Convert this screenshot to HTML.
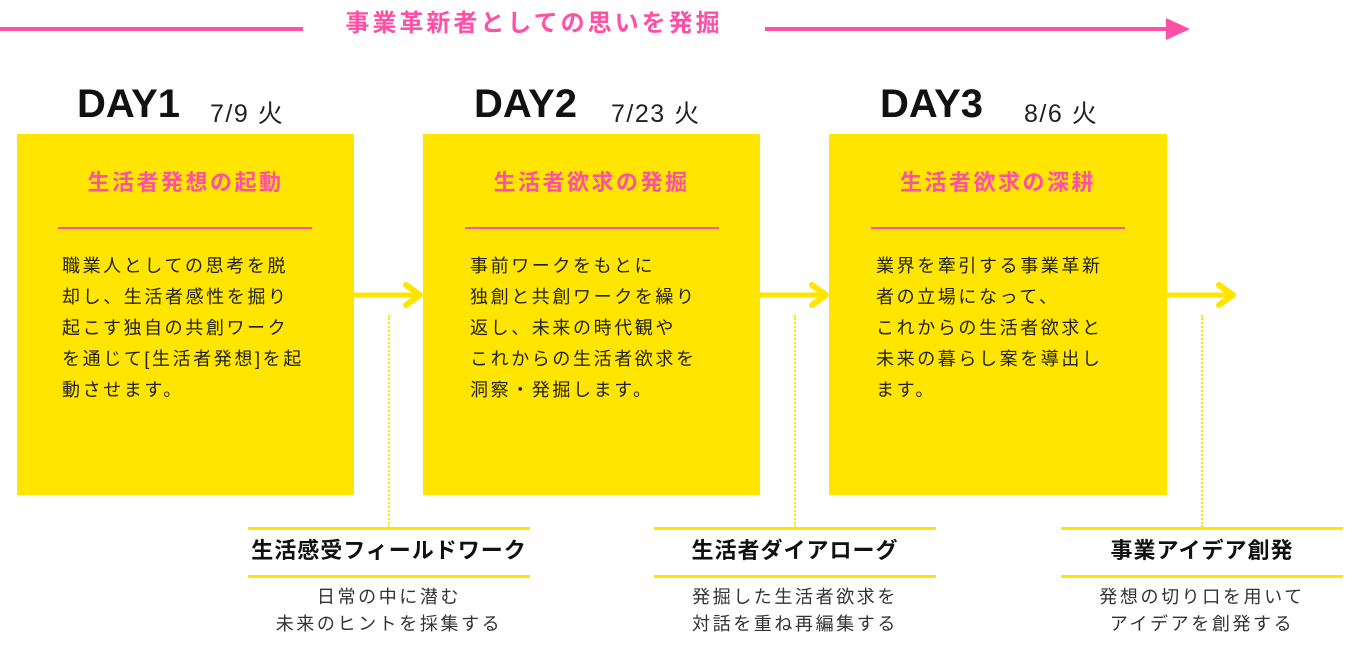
<!DOCTYPE html>
<html><head><meta charset="utf-8"><style>
body{margin:0;width:1366px;height:650px;background:#fff;position:relative;overflow:hidden;font-family:"Liberation Sans","Noto Sans CJK JP",sans-serif;}
.a{position:absolute;}
.box{position:absolute;top:134px;height:361px;background:#FFE500;}
.ttl{position:absolute;left:0;width:100%;top:34px;text-align:center;color:#FF4FA6;font-weight:bold;font-size:22px;letter-spacing:2.5px;line-height:30px;}
.pl{position:absolute;top:227px;height:2px;background:#FF4FA6;}
.body{position:absolute;top:251px;font-size:18px;letter-spacing:2.6px;line-height:31px;color:#222;white-space:nowrap;}
.day{position:absolute;top:82px;font-weight:bold;font-size:40px;color:#111;}
.date{position:absolute;top:94px;font-size:25px;letter-spacing:1.5px;color:#222;}
.yl{position:absolute;height:3px;background:#FFE500;}
.st{position:absolute;top:536px;text-align:center;font-weight:bold;font-size:22px;letter-spacing:1px;color:#111;line-height:30px;}
.sd{position:absolute;top:584px;text-align:center;font-size:18px;letter-spacing:2.6px;color:#333;line-height:27px;white-space:nowrap;}
.dot{position:absolute;top:315px;height:212px;border-left:2px dotted #FFE500;}
</style></head><body>
<div class="a" style="left:0;top:27px;width:303px;height:4px;background:#FF4FA6"></div>
<div class="a" style="left:765px;top:27px;width:405px;height:4px;background:#FF4FA6"></div>
<svg class="a" style="left:1166px;top:18px" width="26" height="22"><polygon points="0,0 24,11 0,22" fill="#FF4FA6"/></svg>
<div class="a" style="left:303px;width:462px;top:8px;text-align:center;color:#FF4FA6;font-weight:bold;font-size:24px;letter-spacing:3px;line-height:32px;white-space:nowrap">事業革新者としての思いを発掘</div>

<div class="day" style="left:77px">DAY1</div><div class="date" style="left:210px">7/9 火</div>
<div class="day" style="left:474px">DAY2</div><div class="date" style="left:611px">7/23 火</div>
<div class="day" style="left:880px">DAY3</div><div class="date" style="left:1024px">8/6 火</div>

<div class="box" style="left:17px;width:337px"><div class="ttl">生活者発想の起動</div></div>
<div class="pl" style="left:58px;width:254px"></div>
<div class="body" style="left:62px">職業人としての思考を脱<br>却し、生活者感性を掘り<br>起こす独自の共創ワーク<br>を通じて[生活者発想]を起<br>動させます。</div>

<div class="box" style="left:423px;width:337px"><div class="ttl">生活者欲求の発掘</div></div>
<div class="pl" style="left:465px;width:254px"></div>
<div class="body" style="left:470px">事前ワークをもとに<br>独創と共創ワークを繰り<br>返し、未来の時代観や<br>これからの生活者欲求を<br>洞察・発掘します。</div>

<div class="box" style="left:829px;width:338px"><div class="ttl">生活者欲求の深耕</div></div>
<div class="pl" style="left:871px;width:254px"></div>
<div class="body" style="left:876px">業界を牽引する事業革新<br>者の立場になって、<br>これからの生活者欲求と<br>未来の暮らし案を導出し<br>ます。</div>

<svg class="a" style="left:354px;top:282px" width="72" height="28"><line x1="0" y1="13" x2="66" y2="13" stroke="#FFE500" stroke-width="5"/><polyline points="52,3 66,13 52,23" fill="none" stroke="#FFE500" stroke-width="6" stroke-linecap="round" stroke-linejoin="round"/></svg>
<svg class="a" style="left:760px;top:282px" width="72" height="28"><line x1="0" y1="13" x2="66" y2="13" stroke="#FFE500" stroke-width="5"/><polyline points="52,3 66,13 52,23" fill="none" stroke="#FFE500" stroke-width="6" stroke-linecap="round" stroke-linejoin="round"/></svg>
<svg class="a" style="left:1167px;top:282px" width="72" height="28"><line x1="0" y1="13" x2="66" y2="13" stroke="#FFE500" stroke-width="5"/><polyline points="52,3 66,13 52,23" fill="none" stroke="#FFE500" stroke-width="6" stroke-linecap="round" stroke-linejoin="round"/></svg>

<div class="dot" style="left:388px"></div>
<div class="dot" style="left:794px"></div>
<div class="dot" style="left:1201px"></div>

<div class="yl" style="left:248px;width:282px;top:527px"></div>
<div class="yl" style="left:248px;width:282px;top:575px"></div>
<div class="st" style="left:248px;width:282px">生活感受フィールドワーク</div>
<div class="sd" style="left:238px;width:302px">日常の中に潜む<br>未来のヒントを採集する</div>

<div class="yl" style="left:654px;width:282px;top:527px"></div>
<div class="yl" style="left:654px;width:282px;top:575px"></div>
<div class="st" style="left:654px;width:282px">生活者ダイアローグ</div>
<div class="sd" style="left:644px;width:302px">発掘した生活者欲求を<br>対話を重ね再編集する</div>

<div class="yl" style="left:1061px;width:282px;top:527px"></div>
<div class="yl" style="left:1061px;width:282px;top:575px"></div>
<div class="st" style="left:1061px;width:282px">事業アイデア創発</div>
<div class="sd" style="left:1051px;width:302px">発想の切り口を用いて<br>アイデアを創発する</div>
</body></html>
